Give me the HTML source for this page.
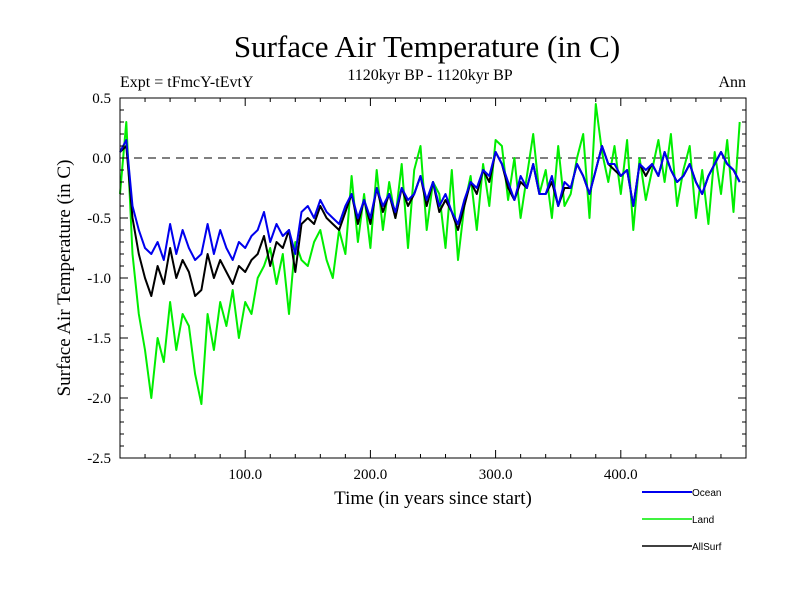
<!DOCTYPE html>
<html><head><meta charset="utf-8"><style>
body{margin:0;background:#fff;width:800px;height:600px;overflow:hidden}
svg{display:block}
.s{font-family:"Liberation Serif",serif;fill:#000}
.h{font-family:"Liberation Sans",sans-serif;fill:#000;font-size:10px}
</style></head><body>
<svg id="c" width="800" height="600">
<text class="s" x="427" y="57" font-size="31" text-anchor="middle">Surface Air Temperature (in C)</text>
<text class="s" x="430" y="80" font-size="16" text-anchor="middle">1120kyr BP - 1120kyr BP</text>
<text class="s" x="120" y="87" font-size="16">Expt = tFmcY-tEvtY</text>
<text class="s" x="746" y="87" font-size="16" text-anchor="end">Ann</text>
<text class="s" x="433" y="504" font-size="19" text-anchor="middle">Time (in years since start)</text>
<text class="s" font-size="19" text-anchor="middle" transform="translate(70,278) rotate(-90)">Surface Air Temperature (in C)</text>
<g id="plot"></g>
<g id="axes"></g>
<g id="legend"></g>
</svg>
<script>
const years=[];for(let i=0;i<100;i++)years.push(i*5);
const ocean=[0.05,0.15,-0.4,-0.6,-0.75,-0.8,-0.7,-0.85,-0.55,-0.8,-0.6,-0.75,-0.85,-0.8,-0.55,-0.8,-0.6,-0.75,-0.85,-0.7,-0.75,-0.65,-0.6,-0.45,-0.7,-0.55,-0.65,-0.6,-0.8,-0.45,-0.4,-0.5,-0.35,-0.45,-0.5,-0.55,-0.4,-0.3,-0.5,-0.35,-0.5,-0.25,-0.4,-0.3,-0.45,-0.25,-0.35,-0.3,-0.15,-0.35,-0.2,-0.4,-0.3,-0.45,-0.55,-0.35,-0.2,-0.25,-0.1,-0.15,0.05,-0.05,-0.2,-0.35,-0.15,-0.25,-0.05,-0.3,-0.3,-0.15,-0.4,-0.2,-0.25,-0.05,-0.15,-0.3,-0.1,0.1,-0.05,-0.05,-0.15,-0.1,-0.4,-0.05,-0.1,-0.05,-0.15,0.05,-0.1,-0.2,-0.15,-0.05,-0.2,-0.3,-0.15,-0.05,0.05,-0.05,-0.1,-0.2];
const land=[-0.3,0.3,-0.8,-1.3,-1.6,-2.0,-1.5,-1.7,-1.2,-1.6,-1.3,-1.4,-1.8,-2.05,-1.3,-1.6,-1.2,-1.4,-1.1,-1.5,-1.2,-1.3,-1.0,-0.9,-0.75,-1.05,-0.8,-1.3,-0.7,-0.85,-0.9,-0.7,-0.6,-0.85,-1.0,-0.6,-0.8,-0.15,-0.7,-0.3,-0.75,-0.1,-0.6,-0.2,-0.5,-0.05,-0.75,-0.1,0.1,-0.6,-0.2,-0.3,-0.75,-0.1,-0.85,-0.4,-0.15,-0.6,-0.05,-0.4,0.15,0.1,-0.35,0.0,-0.5,-0.15,0.2,-0.3,-0.1,-0.5,0.1,-0.4,-0.3,0.0,0.2,-0.5,0.45,0.05,-0.2,0.1,-0.3,0.15,-0.6,0.0,-0.35,-0.1,0.15,-0.2,0.2,-0.4,-0.1,0.1,-0.5,-0.1,-0.55,0.05,-0.3,0.15,-0.45,0.3];
const allsurf=[0.05,0.1,-0.5,-0.8,-1.0,-1.15,-0.9,-1.05,-0.75,-1.0,-0.85,-0.95,-1.15,-1.1,-0.8,-1.0,-0.85,-0.95,-1.05,-0.9,-0.95,-0.85,-0.8,-0.65,-0.9,-0.7,-0.75,-0.6,-0.95,-0.55,-0.5,-0.55,-0.4,-0.5,-0.55,-0.6,-0.45,-0.3,-0.55,-0.35,-0.55,-0.25,-0.45,-0.3,-0.5,-0.25,-0.4,-0.3,-0.15,-0.4,-0.2,-0.45,-0.35,-0.45,-0.6,-0.4,-0.2,-0.3,-0.1,-0.2,0.05,-0.05,-0.25,-0.35,-0.2,-0.25,-0.05,-0.3,-0.3,-0.2,-0.4,-0.25,-0.25,-0.05,-0.15,-0.3,-0.1,0.1,-0.05,-0.1,-0.15,-0.1,-0.4,-0.05,-0.15,-0.05,-0.15,0.05,-0.1,-0.2,-0.15,-0.05,-0.2,-0.3,-0.15,-0.05,0.05,-0.05,-0.1,-0.2];
const xTicks=[100,200,300,400];
const xTickLabels=["100.0","200.0","300.0","400.0"];
const yTicks=[0.5,0,-0.5,-1,-1.5,-2,-2.5];
const yTickLabels=["0.5","0.0","-0.5","-1.0","-1.5","-2.0","-2.5"];
const X0=120,X1=746,Y0=98,Y1=458;
const xs=v=>X0+(v/500)*(X1-X0);
const ys=v=>Y0+(0.5-v)/3*(Y1-Y0);
const NS="http://www.w3.org/2000/svg";
function mk(t,a,p){const e=document.createElementNS(NS,t);for(const k in a)e.setAttribute(k,a[k]);p.appendChild(e);return e;}
const plot=document.getElementById('plot'),axes=document.getElementById('axes'),leg=document.getElementById('legend');
const zl=mk('line',{x1:X0,x2:X1,y1:ys(0),y2:ys(0),stroke:'#000','stroke-dasharray':'8,6','stroke-width':1},plot);


function series(vals,color,name){
  const d=vals.map((v,i)=>(i?'L':'M')+xs(years[i]).toFixed(1)+','+ys(v).toFixed(1)).join('');
  const p=mk('path',{d:d,fill:'none',stroke:color,'stroke-width':2,'stroke-linejoin':'round'},plot);
  
  
}
series(land,'#00ee00','land-series');
series(allsurf,'#000000','allsurf-series');
series(ocean,'#0000ee','ocean-series');
const fr=mk('rect',{x:X0,y:Y0,width:X1-X0,height:Y1-Y0,fill:'none',stroke:'#000','stroke-width':1},axes);


for(let v=20;v<500;v+=20){const maj=v%100===0,L=maj?8:4;
  mk('line',{x1:xs(v),x2:xs(v),y1:Y1,y2:Y1-L,stroke:'#000'},axes);
  mk('line',{x1:xs(v),x2:xs(v),y1:Y0,y2:Y0+L,stroke:'#000'},axes);}
for(let k=-25;k<=5;k++){const v=k/10,maj=k%5===0,L=maj?8:4;
  mk('line',{x1:X0,x2:X0+L,y1:ys(v),y2:ys(v),stroke:'#000'},axes);
  mk('line',{x1:X1,x2:X1-L,y1:ys(v),y2:ys(v),stroke:'#000'},axes);}
xTicks.forEach((v,i)=>{const t=mk('text',{x:xs(v),y:Y1+21,'font-size':15,'text-anchor':'middle',class:'s'},axes);t.textContent=xTickLabels[i];
  
  });
yTicks.forEach((v,i)=>{const t=mk('text',{x:X0-9,y:ys(v)+5,'font-size':15,'text-anchor':'end',class:'s'},axes);t.textContent=yTickLabels[i];
  
  });
const legNames=["Ocean","Land","AllSurf"],legColors=["#0000ee","#00ee00","#000000"];
legNames.forEach((n,i)=>{const y=492+i*27;
  const g=mk('g',{},leg);
  
  
  mk('line',{x1:642,x2:692,y1:y,y2:y,stroke:legColors[i],'stroke-width':i===0?2:1.5},g);
  const t=mk('text',{x:692,y:y+4,class:'h'},g);t.textContent=n;});
</script>
</body></html>
